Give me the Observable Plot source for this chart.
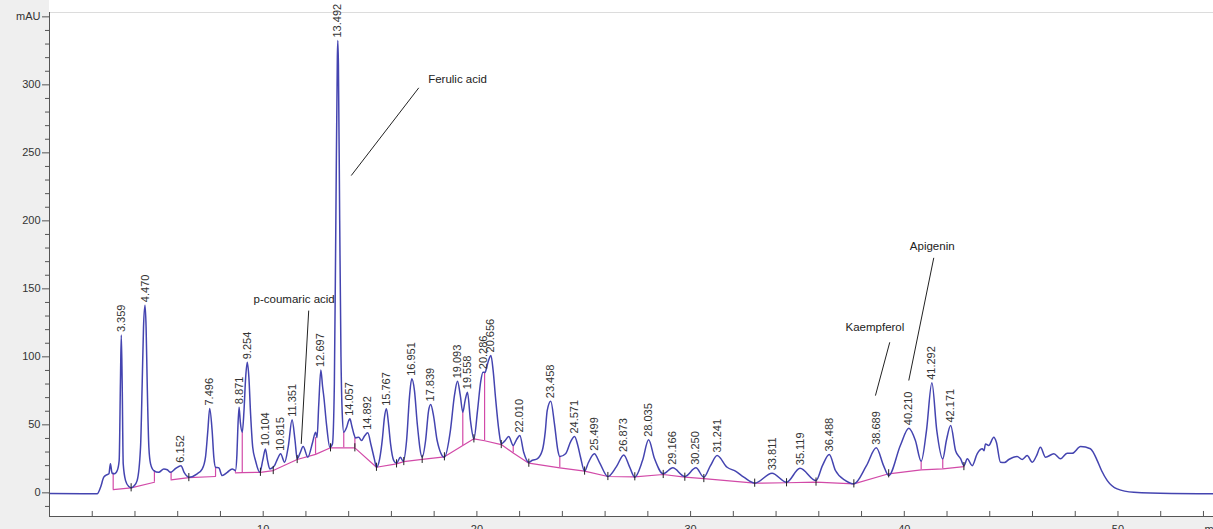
<!DOCTYPE html>
<html>
<head>
<meta charset="utf-8">
<script src="https://cdn.jsdelivr.net/npm/d3@7"></script>
<script src="https://cdn.jsdelivr.net/npm/@observablehq/plot@0.6"></script>
<style>
  html, body { margin: 0; padding: 0; background: #efefef; overflow: hidden; }
</style>
</head>
<body>
<div id="chart"></div>
<script>
// ---- chromatogram trace (time in min, absorbance in mAU) ----
const traceTime = [
  0, 2.23, 2.39, 2.54, 2.67, 2.78, 2.85, 2.93, 3.04, 3.17, 3.26, 3.32, 3.359, 3.40, 3.45, 3.56, 3.71, 3.82, 3.95,
  4.10, 4.26, 4.34, 4.40, 4.47, 4.52, 4.57, 4.65, 4.73, 4.88, 5.11, 5.35, 5.51, 5.66, 5.90, 6.152, 6.30, 6.52,
  6.91, 7.15, 7.30, 7.41, 7.496, 7.61, 7.69, 7.77, 7.92, 8.08, 8.32, 8.55, 8.70, 8.77, 8.81, 8.871, 8.93, 9.02,
  9.10, 9.18, 9.254, 9.33, 9.41, 9.51, 9.64, 9.84, 9.98, 10.104, 10.20, 10.31, 10.53, 10.67, 10.815, 11.00,
  11.18, 11.351, 11.49, 11.59, 11.72, 11.87, 12.09, 12.31, 12.45, 12.52, 12.60, 12.697, 12.78, 12.84, 12.96,
  13.12, 13.24, 13.33, 13.40, 13.47, 13.492, 13.52, 13.58, 13.64, 13.70, 13.77, 13.90, 14.00, 14.057, 14.15,
  14.24, 14.32, 14.47, 14.60, 14.75, 14.892, 15.05, 15.20, 15.30, 15.45, 15.58, 15.67, 15.767, 15.87, 15.96,
  16.11, 16.24, 16.42, 16.55, 16.71, 16.85, 16.951, 17.08, 17.21, 17.44, 17.60, 17.74, 17.839, 17.97, 18.14,
  18.48, 18.76, 18.95, 19.093, 19.22, 19.34, 19.45, 19.558, 19.70, 19.86, 20.03, 20.18, 20.286, 20.38, 20.50,
  20.656, 20.76, 20.87, 21.03, 21.14, 21.30, 21.49, 21.70, 21.85, 22.010, 22.19, 22.43, 22.60, 22.82, 23.06,
  23.20, 23.29, 23.458, 23.63, 23.79, 23.88, 24.15, 24.40, 24.571, 24.72, 24.85, 25.04, 25.22, 25.499, 25.74,
  26.13, 26.53, 26.873, 27.14, 27.39, 27.75, 28.035, 28.31, 28.72, 29.166, 29.73, 30.250, 30.62, 30.93, 31.241,
  31.71, 32.10, 32.49, 33.00, 33.811, 34.49, 35.119, 35.87, 36.17, 36.488, 36.78, 37.25, 37.64, 38.23, 38.689,
  39.03, 39.27, 39.82, 40.210, 40.52, 40.79, 41.04, 41.292, 41.52, 41.80, 41.97, 42.171, 42.40, 42.64, 42.79,
  42.95, 43.18, 43.41, 43.65, 43.73, 43.80, 43.95, 44.19, 44.31, 44.50, 44.69, 44.89, 45.28, 45.52, 45.75,
  45.99, 46.19, 46.37, 46.61, 47.00, 47.31, 47.62, 47.86, 48.25, 48.71, 48.85, 49.03, 49.23, 49.50, 49.96,
  50.74, 52.5, 54.47
];
const traceMAU = [
  -0.5, -0.7, 4.1, 11.5, 13.2, 14, 21.3, 14.4, 14, 16.4, 23.8, 82, 116, 82, 21.3, 9, 4.6, 3.7, 5,
  9, 33.5, 82, 122, 138, 122, 82, 33.5, 21.3, 16.4, 15.1, 17.6, 17, 15.1, 17.9, 20, 15, 11.5,
  14, 17.6, 26.2, 45.8, 62, 45.8, 26.2, 18.8, 18.4, 12.7, 15.1, 17.6, 16.4, 28, 45.8, 63, 52, 44.6,
  60, 85, 96, 85, 58, 33.5, 23.7, 15.1, 24, 32.3, 24, 17.6, 20, 25, 28.7, 22.5,
  34.8, 53.7, 38.5, 25, 29, 34, 26.2, 37, 44.6, 40.6, 65, 90.4, 78, 70.3, 50.7,
  33.5, 36, 80, 200, 320, 332.6, 315, 200, 100, 58, 44.6, 48, 53, 54.4, 49,
  43.4, 40.4, 40.9, 38.5, 42, 44.1, 35, 25, 18.8, 25, 40, 55, 61.8, 50, 36,
  23.7, 21.8, 26.2, 23.2, 38.5, 71.5, 83.8, 75, 50.7, 26.2, 38.5, 60.5, 65, 56.8, 38.5,
  26.2, 45.8, 71.6, 82, 72, 59.3, 68, 74, 53, 39.7, 60.5, 82, 88.7, 88.5, 95,
  101, 90, 70.3, 45.8, 36, 38, 41.4, 34.8, 39, 42.1, 29.9, 22.5, 24, 25, 31.1,
  45, 60.5, 67.4, 50.7, 31.1, 26.7, 28.7, 38, 41.4, 35, 26.2, 15.9, 22.3, 28.7, 22.3,
  12, 19.3, 27.9, 19.3, 11.5, 23.7, 39, 25.2, 14, 18.4, 12, 18.4, 11.5, 20, 27.4,
  18.8, 15.9, 11.5, 7.1, 14.4, 7.8, 18.1, 9, 20, 28.2, 16.4, 9, 6.6, 20, 33.1,
  20, 12.7, 35, 47.5, 38.5, 23.2, 46, 80.9, 46, 25, 38.5, 49.5, 31, 25, 20,
  25, 20, 28.7, 32.4, 31, 36, 34.8, 40.9, 37.2, 22.5, 22.3, 24.5, 26.7, 24.6, 27.4,
  22.5, 27.4, 33.5, 26.2, 28.7, 25, 29.1, 29.1, 34, 32.4, 29.6, 23.7, 16.4, 9, 2.9,
  0.4, -0.5, -0.7
];

// ---- integration baseline (three segments) ----
const baseSegment = [1, 1, 1, 2, 2, 2,
  3, 3, 3, 3, 3, 3, 3, 3, 3, 3, 3, 3, 3, 3, 3, 3, 3, 3, 3, 3, 3, 3, 3, 3, 3, 3, 3, 3, 3, 3, 3, 3, 3, 3];
const baseTime = [2.98, 3.82, 4.91, 5.69, 6.52, 7.77,
  8.70, 9.02, 9.87, 10.47, 11.59, 12.45, 13.15, 14.29, 15.30, 16.24, 16.58, 17.44, 18.48, 19.34, 19.86, 20.36,
  21.14, 21.70, 22.43, 23.88, 25.04, 26.13, 27.39, 28.72, 29.73, 30.62, 33.00, 34.49, 35.87, 37.64, 39.27,
  40.79, 41.80, 42.79];
const baseMAU = [2.4, 3.7, 7.8, 9.5, 11.2, 12,
  14.7, 14.8, 15.1, 16.4, 24.5, 28.3, 33.1, 33.1, 18.8, 21.3, 23, 24.6, 26.5, 34.8, 39.7, 38.3,
  35.5, 29.3, 21.8, 18.4, 16, 12, 11.8, 13.5, 11.5, 10.5, 7.1, 7.4, 7.9, 6.6, 14,
  16.9, 17.6, 19.3];

// ---- drop lines from baseline up to the trace ----
const dropTime = [2.98, 4.91, 5.69, 7.77, 8.70, 9.02, 12.45, 13.77, 14.29, 19.34, 20.36, 21.70, 23.88, 40.79, 41.80];
const dropFrom = [2.4, 7.8, 9.5, 12, 14.7, 14.8, 28.3, 33.1, 33.1, 34.8, 38.3, 29.3, 18.4, 16.9, 17.6];
const dropTo   = [14.4, 16.4, 15.1, 18.8, 16.4, 44.6, 40.6, 44.6, 40.4, 59.3, 88.5, 34.8, 26.7, 23.2, 25];

// ---- valley tick marks ----
const valleyTime = [3.82, 6.52, 9.87, 10.47, 11.59, 13.15, 14.29, 15.30, 16.24, 16.58, 17.44, 18.48, 19.86, 21.14,
  22.43, 25.04, 26.13, 27.39, 28.72, 29.73, 30.62, 33.00, 34.49, 35.87, 37.64, 39.27, 42.79];
const valleyMAU = [3.7, 11.2, 15.1, 16.4, 24.5, 33.1, 33.1, 18.8, 21.3, 23, 24.6, 26.5, 39.7, 35.5,
  21.8, 16, 12, 11.8, 13.5, 11.5, 10.5, 7.1, 7.4, 7.9, 6.6, 14, 19.3];

// ---- peak retention-time labels ----
const peakLabels = ["3.359", "4.470", "6.152", "7.496", "8.871", "9.254", "10.104", "10.815", "11.351", "12.697",
  "13.492", "14.057", "14.892", "15.767", "16.951", "17.839", "19.093", "19.558", "20.286", "20.656", "22.010",
  "23.458", "24.571", "25.499", "26.873", "28.035", "29.166", "30.250", "31.241", "33.811", "35.119", "36.488",
  "38.689", "40.210", "41.292", "42.171"];
const peakHeights = [116, 138, 20, 62, 63, 96, 32.3, 28.7, 53.7, 90.4,
  332.6, 54.4, 44.1, 61.8, 83.8, 65, 82, 74, 88.7, 101, 42.1,
  67.4, 41.4, 28.7, 27.9, 39, 18.4, 18.4, 27.4, 14.4, 18.1, 28.2,
  33.1, 47.5, 80.9, 49.5];

// ---- compound annotations ----
const compoundNames = ["Ferulic acid", "p-coumaric acid", "Kaempferol", "Apigenin"];
const compoundTextTime = [17.72, 9.55, 37.25, 40.26];
const compoundTextMAU = [304, 142, 121.8, 181];
const leaderTime1 = [17.28, 12.13, 39.32, 41.38];
const leaderMAU1 = [297.8, 134, 110.7, 172.8];
const leaderTime2 = [14.12, 11.78, 38.65, 40.21];
const leaderMAU2 = [233.3, 36, 71.5, 82.6];

// ---- axes ----
const yMajorTicks = [0, 50, 100, 150, 200, 250, 300, 350];
const yMinorTicks = d3.range(-10, 350, 10).filter(v => v % 50 !== 0);
const xTicks = d3.range(2, 55, 2);
const xLabelTicks = [10, 20, 30, 40, 50];
const xUnitTick = [54];
const xDomain = [0, 54.47];
const yDomain = [-17.4, 353.2];

// ---- build tables ----
const trace = traceTime.map((t, i) => ({t, v: traceMAU[i]}));
const baseline = baseTime.map((t, i) => ({t, v: baseMAU[i], seg: baseSegment[i]}));
const drops = dropTime.map((t, i) => ({t, v1: dropFrom[i], v2: dropTo[i]}));
const valleys = valleyTime.map((t, i) => ({t, v: valleyMAU[i]}));
const peaks = peakLabels.map((s, i) => ({t: +s, v: peakHeights[i], s}));
const compounds = compoundNames.map((n, i) => ({
  n, tt: compoundTextTime[i], tv: compoundTextMAU[i],
  x1: leaderTime1[i], y1: leaderMAU1[i], x2: leaderTime2[i], y2: leaderMAU2[i]
}));

const tickLen = 3.7; // mAU, inward x ticks

const chart = Plot.plot({
  width: 1213,
  height: 529,
  marginLeft: 49,
  marginRight: 0,
  marginTop: 12,
  marginBottom: 13,
  style: {
    fontFamily: "'Liberation Sans', Arial, sans-serif",
    fontSize: "11px",
    color: "#333",
    background: "linear-gradient(to top, #efefef 13px, transparent 13px), linear-gradient(to right, #efefef 49px, #ffffff 49px)",
    overflow: "hidden"
  },
  x: {domain: xDomain, axis: null},
  y: {domain: yDomain, axis: null},
  marks: [
    Plot.frame({fill: "white", stroke: null}),
    Plot.ruleY([yDomain[1]], {stroke: "#dcdcdc"}),
    // baseline
    Plot.line(baseline, {x: "t", y: "v", z: "seg", stroke: "#d24aa8", strokeWidth: 1.2}),
    Plot.ruleX(drops, {x: "t", y1: "v1", y2: "v2", stroke: "#d24aa8", strokeWidth: 1.2}),
    // trace
    Plot.line(trace, {x: "t", y: "v", stroke: "#4444b0", strokeWidth: 1.5, curve: "monotone-x"}),
    // valley ticks
    Plot.ruleX(valleys, {x: "t", y1: d => d.v - 3, y2: d => d.v + 3, stroke: "#222", strokeWidth: 1}),
    // peak labels
    Plot.text(peaks, {x: "t", y: "v", text: "s", rotate: -90, textAnchor: "start", lineAnchor: "middle",
      dy: -3, fill: "#333", fontSize: 11}),
    // compound annotations
    Plot.link(compounds, {x1: "x1", y1: "y1", x2: "x2", y2: "y2", stroke: "#222", strokeWidth: 1}),
    Plot.text(compounds, {x: "tt", y: "tv", text: "n", textAnchor: "start", fill: "#222", fontSize: 11.5}),
    // axes
    Plot.ruleX([xDomain[0]], {stroke: "#555"}),
    Plot.ruleY([yDomain[0]], {stroke: "#555"}),
    Plot.ruleX(xTicks, {x: d => d, y1: yDomain[0], y2: yDomain[0] + tickLen, stroke: "#555"}),
    Plot.axisX(xLabelTicks, {tickSize: 0, tickPadding: 9, tickFormat: d => String(d), label: null, fill: "#333"}),
    Plot.text(xUnitTick, {x: d => d, y: yDomain[0], text: () => "min", textAnchor: "start", dx: 1, dy: 13,
      fill: "#333", fontSize: 11}),
    Plot.axisY(yMajorTicks, {tickSize: 7, tickPadding: 2, tickFormat: d => d === 350 ? "mAU" : String(d),
      label: null, stroke: "#555", fill: "#333"}),
    Plot.axisY(yMinorTicks, {tickSize: 4, tickFormat: () => "", label: null, stroke: "#555"})
  ]
});
document.getElementById("chart").appendChild(chart);
</script>
</body>
</html>
